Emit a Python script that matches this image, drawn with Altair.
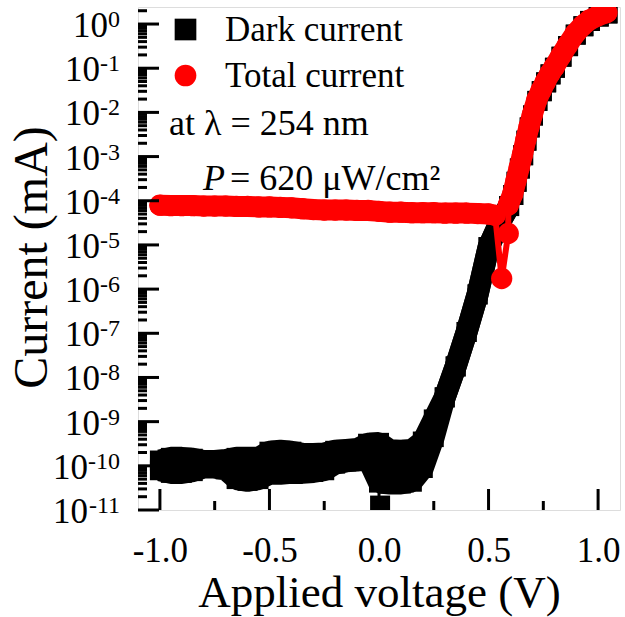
import altair as alt
import pandas as pd

# ---------------- data (log10 of current in mA) ----------------
dark_v = [-1.00, -0.95, -0.90, -0.85, -0.80, -0.75, -0.70, -0.65, -0.60,
          -0.55, -0.50, -0.45, -0.40, -0.35, -0.30, -0.25, -0.20, -0.15, -0.10,
          -0.05, 0.00, 0.05, 0.10, 0.15, 0.20, 0.25, 0.30, 0.35, 0.40,
          0.45, 0.50, 0.55, 0.594, 0.613, 0.628, 0.643, 0.658, 0.673, 0.688,
          0.703, 0.723, 0.743, 0.763, 0.783, 0.803, 0.833, 0.863, 0.898, 0.933,
          0.963, 1.003, 1.043]
dark_hi_log = [-9.88, -9.82, -9.82, -9.84, -9.89, -9.89, -9.87, -9.82, -9.82,
               -9.82, -9.68, -9.66, -9.68, -9.73, -9.73, -9.72, -9.66, -9.64, -9.62,
               -9.50, -9.48, -9.65, -9.66, -9.64, -9.45, -8.95, -8.45, -7.75, -6.97,
               -6.12, -5.05, -4.50, -4.12, -3.87, -3.57, -3.27, -2.97, -2.64, -2.34,
               -2.07, -1.74, -1.52, -1.32, -1.14, -0.99, -0.74, -0.50, -0.24, -0.05,
               0.07, 0.17, 0.24]
dark_lo_log = [-10.10, -10.16, -10.16, -10.12, -10.04, -10.04, -10.08, -10.30, -10.34,
               -10.30, -10.18, -10.18, -10.16, -10.16, -10.14, -10.10, -9.95, -9.90, -9.88,
               -9.85, -10.38, -10.40, -10.40, -10.36, -10.05, -9.35, -8.45, -7.75, -6.97,
               -6.12, -5.05, -4.50, -4.12, -3.87, -3.57, -3.27, -2.97, -2.64, -2.34,
               -2.07, -1.74, -1.52, -1.32, -1.14, -0.99, -0.74, -0.50, -0.24, -0.05,
               0.07, 0.17, 0.24]
dark_zero_v = [0.005]
dark_zero_log = [-10.9]

total_v = [-1.00, -0.95, -0.90, -0.85, -0.80, -0.75, -0.70, -0.65, -0.60,
           -0.55, -0.50, -0.45, -0.40, -0.35, -0.30, -0.25, -0.20, -0.15, -0.10,
           -0.05, 0.00, 0.05, 0.10, 0.15, 0.20, 0.25, 0.30, 0.35, 0.40,
           0.45, 0.50, 0.53, 0.56, 0.59, 0.59, 0.61, 0.625, 0.64, 0.655,
           0.67, 0.685, 0.70, 0.72, 0.74, 0.76, 0.78, 0.80, 0.83, 0.86,
           0.895, 0.93, 0.96, 1.00, 1.04]
total_log = [-4.10, -4.11, -4.11, -4.11, -4.12, -4.12, -4.12, -4.13, -4.13,
             -4.14, -4.14, -4.15, -4.16, -4.18, -4.20, -4.21, -4.21, -4.21, -4.22,
             -4.22, -4.24, -4.26, -4.26, -4.27, -4.27, -4.27, -4.28, -4.28, -4.28,
             -4.29, -4.30, -4.33, -5.76, -4.74, -4.10, -3.85, -3.55, -3.25, -2.95,
             -2.62, -2.32, -2.05, -1.72, -1.50, -1.30, -1.12, -0.97, -0.72, -0.48,
             -0.22, -0.03, 0.09, 0.19, 0.26]

series_names = ["Dark current", "Total current"]
x_major = [-1.0, -0.5, 0.0, 0.5, 1.0]
x_minor = [-0.75, -0.25, 0.25, 0.75]
y_major_exp = [0, -1, -2, -3, -4, -5, -6, -7, -8, -9, -10, -11]
y_minor_mult = [2, 3, 4, 5, 6, 7, 8, 9]
note1 = ["at λ = 254 nm"]
note2_p = ["P"]
note2_rest = ["= 620 μW/cm²"]

# ---------------- tables ----------------
dark = pd.DataFrame({
    "V": dark_v,
    "hi": [10 ** v for v in dark_hi_log],
    "lo": [10 ** v for v in dark_lo_log],
})
dark_pts = pd.concat([
    pd.DataFrame({"V": dark_v, "I": [10 ** v for v in dark_hi_log]}),
    pd.DataFrame({"V": dark_v, "I": [10 ** v for v in dark_lo_log]}),
    pd.DataFrame({"V": dark_zero_v, "I": [10 ** v for v in dark_zero_log]}),
])
dark_pts["series"] = series_names[0]
total = pd.DataFrame({"V": total_v, "I": [10 ** v for v in total_log],
                      "order": list(range(len(total_v)))})
total["series"] = series_names[1]

xmaj = pd.DataFrame({"t": x_major})
xmin = pd.DataFrame({"t": x_minor})
ymaj = pd.DataFrame({"t": [10.0 ** e for e in y_major_exp],
                     "base": ["10"] * len(y_major_exp),
                     "exp": [str(e) for e in y_major_exp]})
ymaj["n"] = ymaj["exp"].str.len()
ymin_vals = [m * 10.0 ** e for e in y_major_exp for m in y_minor_mult]
ymin = pd.DataFrame({"t": [v for v in ymin_vals if v < 2.43]})

W, H = 482, 503
FONT = "Liberation Serif"

xscale = alt.Scale(domain=[-1.1, 1.1], nice=False, zero=False)
yscale = alt.Scale(type="log", domain=[1e-11, 2.43], nice=False)

xaxis = alt.Axis(
    title="Applied voltage (V)", values=x_major,
    labelExpr="replace(format(datum.value, '.1f'), '\u2212', '-')",
    ticks=False, tickSize=0, domain=False, grid=False,
    labelFont=FONT, labelFontSize=35, labelColor="black",
    labelBaseline="alphabetic", labelPadding=51,
    titleFont=FONT, titleFontSize=45, titleFontWeight="normal", titleColor="black",
    titleX=W / 2, titleY=96, titleBaseline="alphabetic", titleAlign="center",
)
yaxis = alt.Axis(
    title="Current (mA)", values=[10.0 ** e for e in y_major_exp],
    labels=False, ticks=False, tickSize=0, domain=False, grid=False,
    titleFont=FONT, titleFontSize=48, titleFontWeight="normal", titleColor="black",
    titleX=-106, titleY=250, titleAngle=270, titleBaseline="middle", titleAlign="center",
)

X = alt.X("V:Q", scale=xscale, axis=xaxis)

color = alt.Color("series:N", scale=alt.Scale(domain=series_names, range=["black", "#ff0000"]),
                  legend=alt.Legend(title=None, orient="none", legendX=30, legendY=5,
                                    labelFont=FONT, labelFontSize=35, labelColor="black",
                                    labelLimit=0,
                                    symbolSize=470, symbolStrokeWidth=0, rowPadding=10,
                                    labelOffset=22, padding=0, symbolOpacity=1))
shape = alt.Shape("series:N", scale=alt.Scale(domain=series_names, range=["square", "circle"]))

dark_area = alt.Chart(dark).mark_area(color="black", clip=True).encode(
    x=X, y=alt.Y("lo:Q", scale=yscale, axis=yaxis), y2="hi:Q")


def dark_line(field, width, cond):
    return alt.Chart(dark).transform_filter(cond).mark_line(
        color="black", strokeWidth=width, strokeJoin="bevel", clip=True
    ).encode(x=X, y=alt.Y(field + ":Q", scale=yscale, axis=yaxis))


dark_hi_low_v = dark_line("hi", 22, "datum.V <= 0.6")
dark_lo_low_v = dark_line("lo", 22, "datum.V <= 0.6")
dark_hi_high_v = dark_line("hi", 13, "datum.V >= 0.55")

dark_sq = alt.Chart(dark_pts).mark_point(filled=True, opacity=1, strokeWidth=0, size=400, clip=True).encode(
    x=X, y=alt.Y("I:Q", scale=yscale, axis=yaxis), color=color, shape=shape)


def red_line(width, cond):
    return alt.Chart(total).transform_filter(cond).mark_line(
        color="#ff0000", strokeWidth=width, strokeJoin="round", strokeCap="round", clip=True
    ).encode(x=X, y=alt.Y("I:Q", scale=yscale, axis=yaxis), order="order:Q")


tot_line = red_line(6, "true")
tot_flat_band = red_line(21, "datum.order <= 31")
tot_rise_band = red_line(21, "datum.order >= 34")
tot_pts = alt.Chart(total).mark_point(filled=True, opacity=1, strokeWidth=0, size=452, clip=True).encode(
    x=X, y=alt.Y("I:Q", scale=yscale, axis=yaxis), color=color, shape=shape)

XT = alt.X("t:Q", scale=xscale, axis=xaxis)
YT = alt.Y("t:Q", scale=yscale, axis=yaxis)
tick_kw = dict(color="black", strokeWidth=3)
xt_major = alt.Chart(xmaj).mark_rule(**tick_kw).encode(x=XT, y=alt.value(H), y2=alt.value(H - 21))
xt_minor = alt.Chart(xmin).mark_rule(**tick_kw).encode(x=XT, y=alt.value(H), y2=alt.value(H - 9))
yt_major = alt.Chart(ymaj).mark_rule(**tick_kw).encode(y=YT, x=alt.value(0), x2=alt.value(21))
yt_minor = alt.Chart(ymin).mark_rule(**tick_kw).encode(y=YT, x=alt.value(0), x2=alt.value(9))

# y tick labels: "10" with a raised exponent
EXP_FS, BASE_FS, RIGHT = 24, 35, -18
exp_w = {1: 12, 2: 20, 3: 32}
ylab_exp = alt.Chart(ymaj).mark_text(font=FONT, fontSize=EXP_FS, color="black", align="right",
                                     baseline="alphabetic", dy=3).encode(
    y=YT, x=alt.value(RIGHT), text="exp:N")
ylab_base = [
    alt.Chart(ymaj).transform_filter(f"datum.n == {n}").mark_text(
        font=FONT, fontSize=BASE_FS, color="black", align="right", baseline="alphabetic", dy=13
    ).encode(y=YT, x=alt.value(RIGHT - w), text="base:N")
    for n, w in exp_w.items()
]

txt_kw = dict(font=FONT, fontSize=36, color="black", align="left", baseline="alphabetic")
t1 = alt.Chart(pd.DataFrame({"s": note1})).mark_text(**txt_kw).encode(
    x=alt.value(31), y=alt.value(128), text="s:N")
t2 = alt.Chart(pd.DataFrame({"s": note2_p})).mark_text(fontStyle="italic", **txt_kw).encode(
    x=alt.value(65), y=alt.value(183), text="s:N")
t3 = alt.Chart(pd.DataFrame({"s": note2_rest})).mark_text(**txt_kw).encode(
    x=alt.value(92), y=alt.value(183), text="s:N")

chart = alt.layer(
    dark_area, dark_hi_low_v, dark_lo_low_v, dark_hi_high_v, dark_sq,
    tot_line, tot_flat_band, tot_rise_band, tot_pts,
    xt_major, xt_minor, yt_major, yt_minor, ylab_exp, *ylab_base, t1, t2, t3,
).properties(
    width=W, height=H,
    autosize=alt.AutoSizeParams(type="none"),
    padding={"left": 138, "top": 7, "right": 5, "bottom": 107},
).configure_view(
    stroke="black", strokeWidth=3
).configure(background="white")

chart.save("out.html", embed_options={"renderer": "svg", "actions": False})
